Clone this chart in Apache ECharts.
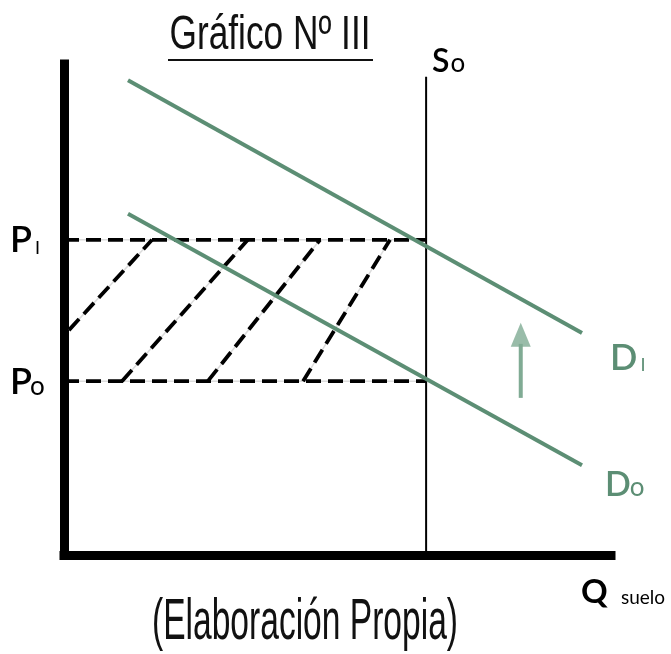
<!DOCTYPE html>
<html><head><meta charset="utf-8">
<script src="https://cdn.jsdelivr.net/npm/echarts@6/dist/echarts.min.js"></script>
<style>html,body{margin:0;padding:0;background:#fff}#c{width:671px;height:654px}</style>
</head><body><div id="c"></div>
<script>
// ---- data (arbitrary economic units, 0-100 on each axis) ----
const titleText = 'Gráfico Nº III';
const sourceText = '(Elaboración Propia)';
const axisLabelQ = ['Q', 'suelo'];
const supplyLabel = ['S', 'o'];
const priceLabels = [['P', 'o'], ['P', 'I']];   // P0, P1
const demandLabels = [['D', 'o'], ['D', 'I']];  // D0, D1
const priceLevels = [35.4, 64.2];               // P0, P1
const supplyQ = 66.2;
const supplyTop = 97.4;
const demandD0 = [[11.7, 69.5], [94.7, 18.3]];
const demandD1 = [[11.7, 96.7], [94.7, 45.2]];
const hatchStart = [[0.9, 45.8], [10.6, 35.4], [26.3, 35.4], [43.7, 35.4]];
const hatchEnd = [[16.1, 64.2], [33.6, 64.2], [46.8, 64.2], [59.6, 64.2]];
const arrowX = 83.5, arrowFrom = 32.0, arrowShaftTop = 43.0, arrowTo = 47.3;

const GREEN = '#5c8e74', ARROW = '#80ab94', DASH = [15, 7];
const chart = echarts.init(document.getElementById('c'), null, {renderer: 'canvas'});

function seg(data, color, width, type, z) {
  return {type: 'line', data, symbol: 'none', silent: true, animation: false, z,
          lineStyle: {color, width, type: type || 'solid', cap: 'butt'}};
}
const series = [];
priceLevels.forEach(p => series.push(seg([[0, p], [supplyQ, p]], '#dcdcdc', 1.5, 'solid', 2)));
hatchStart.forEach((s, i) => series.push(seg([s, hatchEnd[i]], '#dcdcdc', 1.5, 'solid', 2)));
priceLevels.forEach(p => series.push(seg([[0, p], [supplyQ, p]], '#000', 3.8, DASH, 3)));
hatchStart.forEach((s, i) => series.push(seg([s, hatchEnd[i]], '#000', 3.8, DASH, 3)));
series.push(seg([[supplyQ, 0], [supplyQ, supplyTop]], '#000', 2, 'solid', 4));
series.push(seg(demandD0, GREEN, 4, 'solid', 5));
series.push(seg(demandD1, GREEN, 4, 'solid', 5));
series.push(seg([[arrowX, arrowFrom], [arrowX, arrowShaftTop]], ARROW, 4, 'solid', 5));
series.push({type: 'scatter', data: [[arrowX, arrowTo]], symbol: 'triangle', symbolSize: [20, 24],
             symbolOffset: [0, '50%'], itemStyle: {color: ARROW}, silent: true, animation: false, z: 6});

const axisCommon = {type: 'value', min: 0, max: 100,
  axisLine: {show: true, onZero: false, lineStyle: {color: '#000', width: 9, cap: 'square'}},
  axisTick: {show: false}, axisLabel: {show: false}, splitLine: {show: false}};

chart.setOption({
  animation: false,
  grid: {left: 64, top: 64, right: 60, bottom: 99, containLabel: false},
  xAxis: axisCommon, yAxis: axisCommon, series
});

// ---- text labels, anchored through the chart's own scales ----
const ctx = document.createElement('canvas').getContext('2d');
function textW(font, t) { ctx.font = font; return ctx.measureText(t).width; }
const LATO = 'Lato, "Noto Sans", sans-serif';
const px = (v) => chart.convertToPixel({gridIndex: 0}, v);
const g = [];
function pair(parts, left, baseline, bigSize, smallSize, gap, color, bigWeight) {
  const bigFont = (bigWeight || 'normal') + ' ' + bigSize + 'px ' + LATO;
  const smallFont = 'normal ' + smallSize + 'px ' + LATO;
  g.push({type: 'text', x: left, y: baseline - 0.387 * bigSize, silent: true,
    style: {text: parts[0], font: bigFont, fill: color, textAlign: 'left', textVerticalAlign: 'middle'}});
  g.push({type: 'text', x: left + textW(bigFont, parts[0]) + gap, y: baseline - 0.387 * smallSize, silent: true,
    style: {text: parts[1], font: smallFont, fill: color, textAlign: 'left', textVerticalAlign: 'middle'}});
}
// price labels
priceLevels.forEach((p, i) => {
  const pt = px([0, p]);
  pair(priceLabels[i], pt[0] - 54, pt[1] + 15, 36, i === 1 ? 18 : 26, i === 1 ? 3 : -2, '#000', '600');
});
// demand labels
const d0end = px(demandD0[1]), d1end = px(demandD1[1]);
pair(demandLabels[0], d0end[0] + 23, d0end[1] + 33, 34, 26, -1, GREEN, '600');
pair(demandLabels[1], d1end[0] + 28, d1end[1] + 39, 36, 18, 3, GREEN, '600');
// supply label
const sTop = px([supplyQ, supplyTop]);
pair(supplyLabel, sTop[0] + 6, sTop[1] - 3, 32, 26, 1, '#000', '600');
// Q suelo
const qEnd = px([100, 0]);
g.push({type: 'text', x: qEnd[0] - 30, y: qEnd[1] + 50 - 0.387 * 33, silent: true,
  style: {text: axisLabelQ[0], font: 'bold 33px ' + LATO, fill: '#000', textAlign: 'left', textVerticalAlign: 'middle'}});
g.push({type: 'text', x: qEnd[0] + 10, y: qEnd[1] + 50 - 0.387 * 19, silent: true,
  style: {text: axisLabelQ[1], font: 'normal 19px ' + LATO, fill: '#000', textAlign: 'left', textVerticalAlign: 'middle'}});
// condensed title and source
const COND = '"Liberation Sans", Arial, sans-serif';
function condensed(text, cx, baseline, size, targetW) {
  const font = 'normal ' + size + 'px ' + COND;
  const s = targetW / textW(font, text);
  g.push({type: 'text', x: cx, y: baseline - 0.3465 * size, scaleX: s, silent: true,
    style: {text, font, fill: '#111', textAlign: 'center', textVerticalAlign: 'middle'}});
}
condensed(titleText, 270, 52, 48, 201);
g.push({type: 'line', silent: true, shape: {x1: 168, y1: 60, x2: 373, y2: 60}, style: {stroke: '#111', lineWidth: 2}});
condensed(sourceText, 305, 643, 57, 306);

chart.setOption({graphic: g});
</script></body></html>
